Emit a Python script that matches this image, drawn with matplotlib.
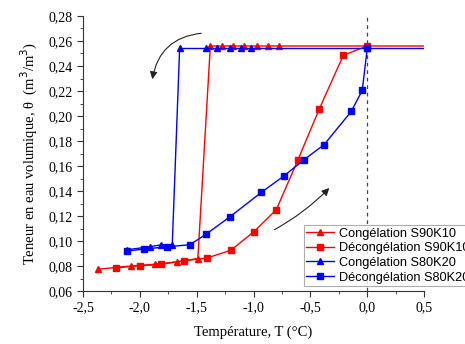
import matplotlib.pyplot as plt
from matplotlib.ticker import MultipleLocator, FuncFormatter

# Congélation S90K10
t_cong_s90 = [0.5, 0.0, -0.78, -0.87, -0.97, -1.08, -1.18, -1.28, -1.38,
              -1.49, -1.67, -1.87, -2.08, -2.37]
th_cong_s90 = [0.256, 0.256, 0.256, 0.256, 0.256, 0.256, 0.256, 0.256, 0.256,
               0.086, 0.0834, 0.0814, 0.080, 0.0774]

# Décongélation S90K10
t_dec_s90 = [-2.21, -2.00, -1.81, -1.61, -1.41, -1.20, -1.00, -0.80, -0.61,
             -0.42, -0.21, 0.0]
th_dec_s90 = [0.0786, 0.0802, 0.0814, 0.0842, 0.0864, 0.0926, 0.1072, 0.125,
              0.1648, 0.206, 0.2486, 0.256]

# Congélation S80K20
t_cong_s80 = [0.5, 0.0, -1.02, -1.11, -1.21, -1.32, -1.42, -1.65, -1.715,
              -1.81, -1.91, -2.11]
th_cong_s80 = [0.254, 0.254, 0.254, 0.254, 0.254, 0.254, 0.254, 0.254, 0.097,
               0.097, 0.0955, 0.093]

# Décongélation S80K20
t_dec_s80 = [-2.11, -1.96, -1.76, -1.56, -1.42, -1.21, -0.93, -0.73, -0.56,
             -0.38, -0.14, -0.044, 0.0]
th_dec_s80 = [0.092, 0.0936, 0.0954, 0.097, 0.1053, 0.1192, 0.139, 0.1522,
              0.1648, 0.177, 0.2037, 0.2205, 0.254]

labels = ['Congélation S90K10', 'Décongélation S90K10',
          'Congélation S80K20', 'Décongélation S80K20']

serif = 'Liberation Serif'
sans = 'Liberation Sans'

fig = plt.figure(figsize=(4.65, 3.44), dpi=100)
ax = fig.add_axes([0.1785, 0.154, 0.7335, 0.7995])

ax.plot(t_cong_s90, th_cong_s90, color='red', marker='^', ms=5, lw=1,
        markevery=range(1, len(t_cong_s90)), label=labels[0])
ax.plot(t_dec_s90, th_dec_s90, color='red', marker='s', ms=4.2, lw=1,
        label=labels[1])
ax.plot(t_cong_s80, th_cong_s80, color='blue', marker='^', ms=5, lw=1,
        markevery=range(1, len(t_cong_s80)), label=labels[2])
ax.plot(t_dec_s80, th_dec_s80, color='blue', marker='s', ms=4.2, lw=1,
        label=labels[3])

ax.axvline(0.0, color='#444444', ls=(0, (3, 3)), lw=0.9, zorder=0)

# arrows
ax.annotate('', xy=(-1.894, 0.2272), xytext=(-1.436, 0.2664),
            arrowprops=dict(arrowstyle='-|>', color='#222222', lw=0.8,
                            mutation_scale=11,
                            connectionstyle='arc3,rad=0.4'))
ax.annotate('', xy=(-0.317, 0.144), xytext=(-0.838, 0.108),
            arrowprops=dict(arrowstyle='-|>', color='#222222', lw=0.8,
                            mutation_scale=11,
                            connectionstyle='arc3,rad=0.08'))

ax.set_xlim(-2.5, 0.5)
ax.set_ylim(0.06, 0.28)
ax.xaxis.set_major_locator(MultipleLocator(0.5))
ax.xaxis.set_minor_locator(MultipleLocator(0.25))
ax.yaxis.set_major_locator(MultipleLocator(0.02))
ax.yaxis.set_minor_locator(MultipleLocator(0.01))
ax.xaxis.set_major_formatter(FuncFormatter(lambda v, p: f'{v:.1f}'.replace('.', ',')))
ax.yaxis.set_major_formatter(FuncFormatter(lambda v, p: f'{v:.2f}'.replace('.', ',')))
ax.tick_params(which='both', direction='out', color='#333333')
ax.tick_params(which='major', length=4, labelsize=10)
ax.tick_params(which='minor', length=2.5)
for lab in ax.get_xticklabels() + ax.get_yticklabels():
    lab.set_fontfamily(serif)

ax.spines['top'].set_visible(False)
ax.spines['right'].set_visible(False)
ax.spines['left'].set_color('#333333')
ax.spines['bottom'].set_color('#333333')

ax.set_xlabel('Température, T (°C)', fontfamily=serif, fontsize=10.5, labelpad=8)
ax.set_ylabel('Teneur en eau volumique, θ  (m$^3$/m$^3$)', fontfamily=serif,
              fontsize=10.5, labelpad=6)

leg = ax.legend(loc='lower left', bbox_to_anchor=(0.647, 0.018),
                prop={'family': sans, 'size': 9.2}, frameon=True,
                fancybox=False, edgecolor='#999999', borderpad=0.2,
                labelspacing=0.2, handlelength=2.2, handletextpad=0.35,
                borderaxespad=0)
leg.get_frame().set_linewidth(0.8)

fig.savefig('out.png', dpi=100)
